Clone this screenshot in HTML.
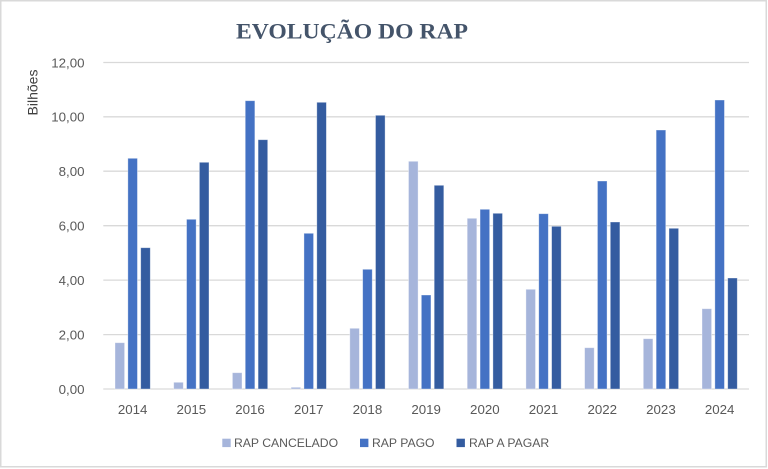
<!DOCTYPE html>
<html><head><meta charset="utf-8"><style>
html,body{margin:0;padding:0;background:#fff;}
svg{display:block;}
text{font-family:"Liberation Sans",sans-serif;fill:#595959;}
</style></head><body>
<svg width="768" height="469" viewBox="0 0 768 469" xmlns="http://www.w3.org/2000/svg">
<rect x="0" y="0" width="768" height="469" fill="#fff"/>
<rect x="0.75" y="0.75" width="765.5" height="466" fill="none" stroke="#d9d9d9" stroke-width="1.5"/>
<text x="236" y="38.3" font-family="Liberation Serif" font-weight="bold" font-size="22.5" textLength="232" lengthAdjust="spacingAndGlyphs" style="font-family:'Liberation Serif',serif;fill:#44546A">EVOLUÇÃO DO RAP</text>
<g stroke="#d9d9d9" stroke-width="1.3">
<line x1="103.3" y1="62.5" x2="749" y2="62.5"/>
<line x1="103.3" y1="116.8" x2="749" y2="116.8"/>
<line x1="103.3" y1="171.2" x2="749" y2="171.2"/>
<line x1="103.3" y1="225.7" x2="749" y2="225.7"/>
<line x1="103.3" y1="280.1" x2="749" y2="280.1"/>
<line x1="103.3" y1="334.6" x2="749" y2="334.6"/>
<line x1="103.3" y1="389" x2="749" y2="389"/>
</g>
<g font-size="13.3" text-anchor="end">
<text x="84.5" y="67.3">12,00</text>
<text x="84.5" y="121.6">10,00</text>
<text x="84.5" y="176">8,00</text>
<text x="84.5" y="230.5">6,00</text>
<text x="84.5" y="284.9">4,00</text>
<text x="84.5" y="339.4">2,00</text>
<text x="84.5" y="393.8">0,00</text>
</g>
<text transform="translate(37.5,92.5) rotate(-90)" text-anchor="middle" font-size="14" style="fill:#404040">Bilhões</text>
<g font-size="13.3" text-anchor="middle">
<text x="132.65" y="414">2014</text>
<text x="191.35" y="414">2015</text>
<text x="250.05" y="414">2016</text>
<text x="308.75" y="414">2017</text>
<text x="367.45" y="414">2018</text>
<text x="426.15" y="414">2019</text>
<text x="484.85" y="414">2020</text>
<text x="543.55" y="414">2021</text>
<text x="602.25" y="414">2022</text>
<text x="660.95" y="414">2023</text>
<text x="719.65" y="414">2024</text>
</g>
<g stroke="rgba(255,255,255,0.45)" stroke-width="0.8">
<g fill="#A6B5DB">
<rect x="115.0" y="342.7" width="9.6" height="46.3"/>
<rect x="173.7" y="382.3" width="9.6" height="6.7"/>
<rect x="232.4" y="372.7" width="9.6" height="16.3"/>
<rect x="291.1" y="387.3" width="9.6" height="1.7"/>
<rect x="349.8" y="328.3" width="9.6" height="60.7"/>
<rect x="408.5" y="161.3" width="9.6" height="227.7"/>
<rect x="467.2" y="218.3" width="9.6" height="170.7"/>
<rect x="525.9" y="289.3" width="9.6" height="99.7"/>
<rect x="584.6" y="347.7" width="9.6" height="41.3"/>
<rect x="643.3" y="338.7" width="9.6" height="50.3"/>
<rect x="702.0" y="308.7" width="9.6" height="80.3"/>
</g>
<g fill="#4472C4">
<rect x="127.85" y="158.3" width="9.6" height="230.7"/>
<rect x="186.55" y="219.3" width="9.6" height="169.7"/>
<rect x="245.25" y="100.7" width="9.6" height="288.3"/>
<rect x="303.95" y="233.3" width="9.6" height="155.7"/>
<rect x="362.65" y="269.3" width="9.6" height="119.7"/>
<rect x="421.35" y="295.0" width="9.6" height="94.0"/>
<rect x="480.05" y="209.3" width="9.6" height="179.7"/>
<rect x="538.75" y="213.7" width="9.6" height="175.3"/>
<rect x="597.45" y="181.0" width="9.6" height="208.0"/>
<rect x="656.15" y="130.0" width="9.6" height="259.0"/>
<rect x="714.85" y="100.0" width="9.6" height="289.0"/>
</g>
<g fill="#345CA0">
<rect x="140.7" y="247.7" width="9.6" height="141.3"/>
<rect x="199.4" y="162.3" width="9.6" height="226.7"/>
<rect x="258.1" y="139.7" width="9.6" height="249.3"/>
<rect x="316.8" y="102.3" width="9.6" height="286.7"/>
<rect x="375.5" y="115.3" width="9.6" height="273.7"/>
<rect x="434.2" y="185.3" width="9.6" height="203.7"/>
<rect x="492.9" y="213.3" width="9.6" height="175.7"/>
<rect x="551.6" y="226.3" width="9.6" height="162.7"/>
<rect x="610.3" y="222.0" width="9.6" height="167.0"/>
<rect x="669.0" y="228.3" width="9.6" height="160.7"/>
<rect x="727.7" y="278.0" width="9.6" height="111.0"/>
</g>
</g>
<rect x="222.3" y="438.7" width="8.4" height="8.4" fill="#A6B5DB"/>
<text x="234" y="447.2" font-size="12.2">RAP CANCELADO</text>
<rect x="360" y="438.7" width="8.4" height="8.4" fill="#4472C4"/>
<text x="372" y="447.2" font-size="12.2">RAP PAGO</text>
<rect x="456.5" y="438.7" width="8.4" height="8.4" fill="#345CA0"/>
<text x="469" y="447.2" font-size="12.2">RAP A PAGAR</text>
</svg>
</body></html>
